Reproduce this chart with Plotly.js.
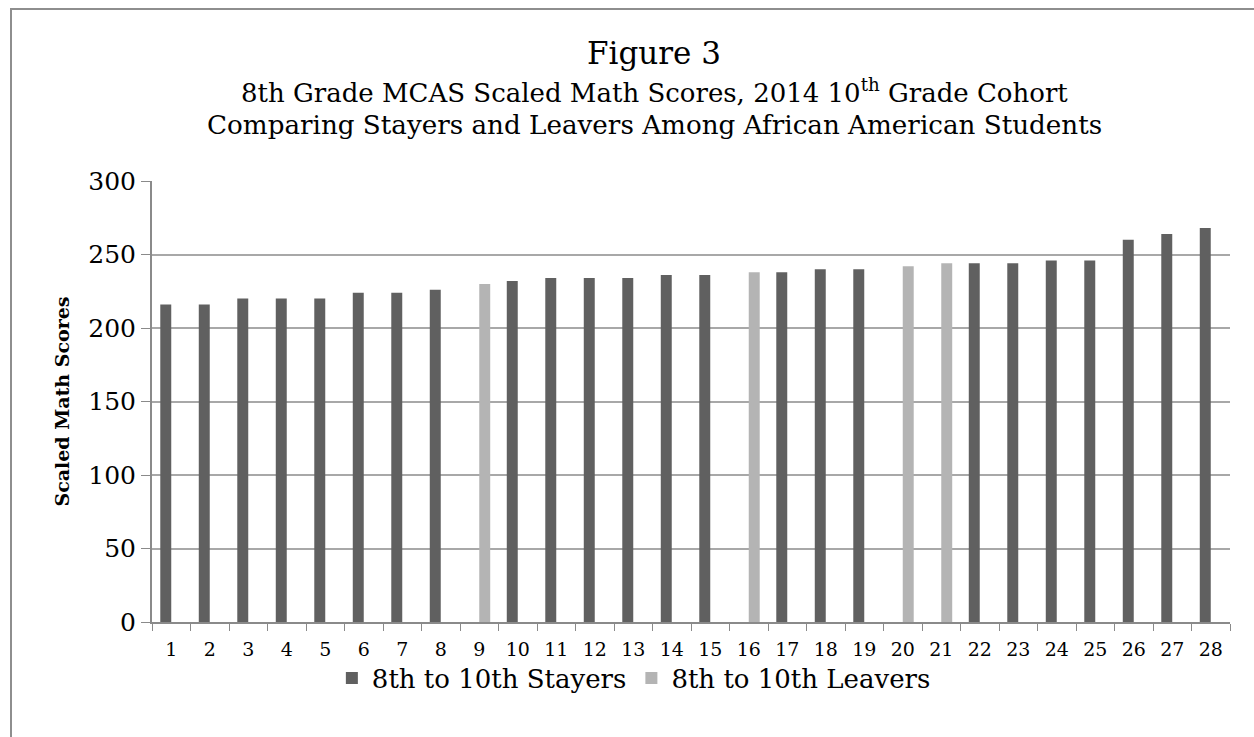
<!DOCTYPE html>
<html>
<head>
<meta charset="utf-8">
<script src="https://cdn.plot.ly/plotly-3.0.1.min.js"></script>
<style>
  html, body { margin: 0; padding: 0; background: #fff; }
  #wrap { position: relative; width: 1254px; height: 737px; overflow: hidden; }
  #frame { position: absolute; left: 10px; top: 8px; width: 1300px; height: 800px;
           border-top: 2px solid #8e8e8e; border-left: 2px solid #8e8e8e; pointer-events: none; }
  #chart { position: absolute; left: 0; top: 0; width: 1254px; height: 737px; }
</style>
</head>
<body>
<div id="wrap">
  <div id="chart"></div>
  <div id="frame"></div>
</div>
<script>
const categories = ["1","2","3","4","5","6","7","8","9","10","11","12","13","14",
                    "15","16","17","18","19","20","21","22","23","24","25","26","27","28"];
const stayers = [216,216,220,220,220,224,224,226,null,232,234,234,234,236,
                 236,null,238,240,240,null,null,244,244,246,246,260,264,268];
const leavers = [null,null,null,null,null,null,null,null,230,null,null,null,null,null,
                 null,238,null,null,null,242,244,null,null,null,null,null,null,null];
const seriesNames = ["8th to 10th Stayers", "8th to 10th Leavers"];
const yTicks = [0,50,100,150,200,250,300];
const titleLines = [
  "Figure 3",
  "8th Grade MCAS Scaled Math Scores, 2014 10<sup>th</sup> Grade Cohort",
  "Comparing Stayers and Leavers Among African American Students"
];
const yTitle = "Scaled Math Scores";

const FONT = "DejaVu Serif";

const traces = [
  { type: "bar", name: seriesNames[0], x: categories, y: stayers,
    marker: { color: "#606060" }, hoverinfo: "x+y" },
  { type: "bar", name: seriesNames[1], x: categories, y: leavers,
    marker: { color: "#b4b4b4" }, hoverinfo: "x+y" }
];

const layout = {
  width: 1254, height: 737,
  paper_bgcolor: "#ffffff", plot_bgcolor: "#ffffff",
  margin: { l: 152, r: 24, t: 181, b: 115, pad: 0 },
  font: { family: FONT, color: "#000000" },
  barmode: "group", bargap: 0.43, bargroupgap: 0,
  annotations: [
    { text: titleLines[0], xref: "paper", yref: "paper", x: 0.4657, y: 1.2902,
      xanchor: "center", yanchor: "middle", showarrow: false,
      font: { family: FONT, size: 31, color: "#000000" } },
    { text: titleLines[1], xref: "paper", yref: "paper", x: 0.4657, y: 1.2041,
      xanchor: "center", yanchor: "middle", showarrow: false,
      font: { family: FONT, size: 26, color: "#000000" } },
    { text: titleLines[2], xref: "paper", yref: "paper", x: 0.4657, y: 1.127,
      xanchor: "center", yanchor: "middle", showarrow: false,
      font: { family: FONT, size: 26.2, color: "#000000" } }
  ],
  xaxis: {
    type: "category",
    tickson: "boundaries",
    ticks: "outside", ticklen: 7, tickcolor: "#8a8a8a", tickwidth: 1,
    ticklabelstandoff: 9,
    showline: true, linecolor: "#8a8a8a", linewidth: 2,
    showgrid: false, zeroline: false,
    tickfont: { family: FONT, size: 19, color: "#000000" },
    tickangle: 0
  },
  yaxis: {
    range: [0, 300], tickvals: yTicks, ticktext: yTicks.map(String),
    ticks: "outside", ticklen: 9, tickcolor: "#8a8a8a", tickwidth: 1,
    showline: true, linecolor: "#8a8a8a", linewidth: 2,
    showgrid: true, gridcolor: "#a8a8a8", gridwidth: 2,
    zeroline: false,
    tickfont: { family: FONT, size: 25, color: "#000000" },
    title: { text: "<b>" + yTitle + "</b>", font: { family: FONT, size: 19, color: "#000000" }, standoff: 14 }
  },
  legend: {
    orientation: "h", x: 0.447, xanchor: "center", y: -0.127, yanchor: "middle",
    bgcolor: "rgba(0,0,0,0)",
    font: { family: FONT, size: 26, color: "#000000" },
    itemwidth: 30, traceorder: "normal"
  },
  showlegend: true
};

Plotly.newPlot("chart", traces, layout, { displayModeBar: false, staticPlot: true });
</script>
</body>
</html>
